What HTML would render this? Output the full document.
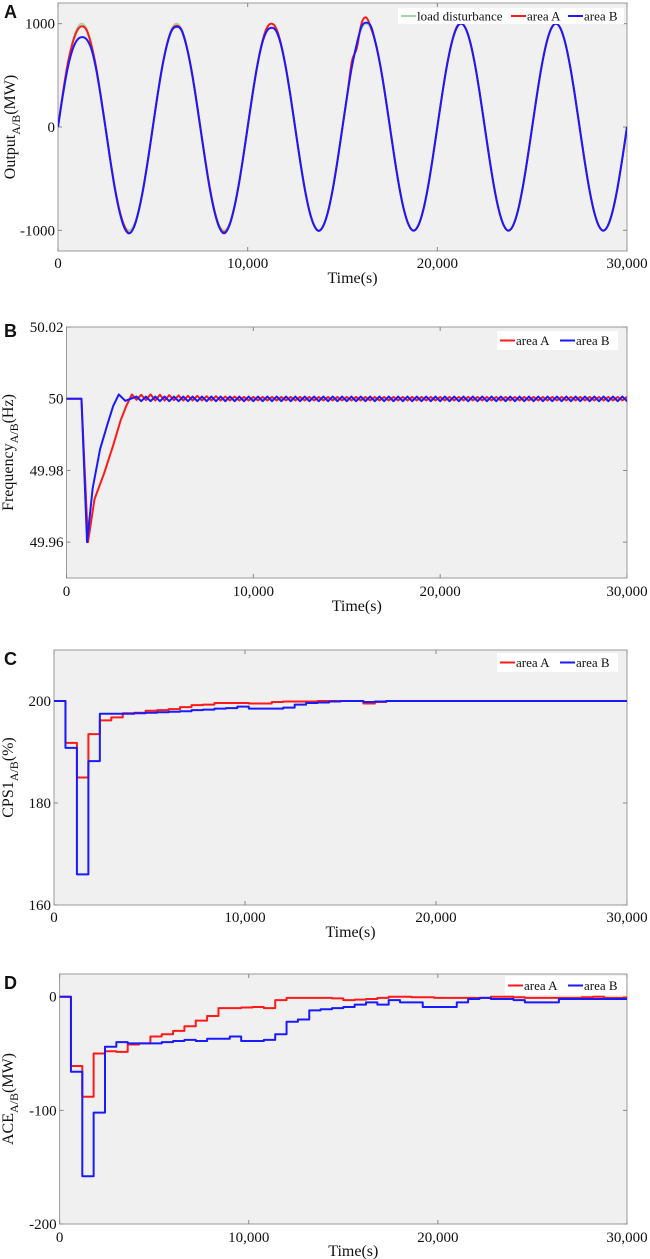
<!DOCTYPE html>
<html><head><meta charset="utf-8">
<style>
html,body{margin:0;padding:0;background:#fff;}
svg{display:block;}
text{font-family:"Liberation Serif",serif;fill:#111;}
.lbl{font-family:"Liberation Sans",sans-serif;font-weight:bold;font-size:18px;}
</style></head>
<body>
<svg id="fig" width="650" height="1259" viewBox="0 0 650 1259" xmlns="http://www.w3.org/2000/svg"></svg>
<script>
// ---------- shared data ----------
const xTicks = [0, 10000, 20000, 30000];
const xTickLabels = ["0", "10,000", "20,000", "30,000"];

// Panel A: output, sampled every 250 s
const outStep = 250;
const outLoad = [0,309,588,809,951,1000,951,809,588,309,0,-309,-588,-809,-951,-1000,-951,-809,-588,-309,
0,309,588,809,951,1000,951,809,588,309,0,-309,-588,-809,-951,-1000,-951,-809,-588,-309,
0,309,588,809,951,1000,951,809,588,309,0,-309,-588,-809,-951,-1000,-951,-809,-588,-309,
0,309,588,809,951,1000,951,809,588,309,0,-309,-588,-809,-951,-1000,-951,-809,-588,-309,
0,309,588,809,951,1000,951,809,588,309,0,-309,-588,-809,-951,-1000,-951,-809,-588,-309,
0,309,588,809,951,1000,951,809,588,309,0,-309,-588,-809,-951,-1000,-951,-809,-588,-309,0];
const outA = [0,320,600,800,930,975,940,800,588,309,0,-309,-590,-812,-960,-1025,-970,-815,-590,-309,
0,309,588,800,940,980,945,805,590,315,5,-300,-585,-810,-962,-1018,-965,-815,-590,-309,
0,309,588,809,955,1000,955,809,588,309,0,-309,-588,-809,-951,-1005,-951,-809,-588,-309,
0,309,640,760,1000,1060,960,809,588,309,0,-309,-588,-809,-951,-1003,-951,-809,-588,-309,
0,309,588,809,960,1005,951,809,588,309,0,-309,-588,-809,-951,-1003,-951,-809,-588,-309,
0,309,588,809,951,1000,951,809,588,309,0,-309,-588,-809,-951,-1003,-951,-809,-588,-309,0];
const outB = [0,300,560,740,840,870,850,760,570,300,0,-315,-600,-825,-975,-1030,-970,-815,-590,-309,
0,309,585,800,935,970,940,800,585,309,0,-309,-595,-820,-970,-1030,-970,-815,-590,-309,
0,309,585,800,925,960,930,800,585,309,0,-309,-588,-809,-951,-1005,-951,-809,-588,-309,
0,309,588,800,970,1010,975,809,588,309,0,-309,-588,-809,-951,-1003,-951,-809,-588,-309,
0,309,588,809,951,1000,951,809,588,309,0,-309,-588,-809,-951,-1003,-951,-809,-588,-309,
0,309,588,809,951,1000,951,809,588,309,0,-309,-588,-809,-951,-1003,-951,-809,-588,-309,0];

// Panel B: frequency transient (t, Hz) then oscillating tail (mHz deviation from 50)
const freqTA = [0,800,1150,1500,2000,2500,2900,3200,3500];
const freqVA = [50,50,49.960,49.972,49.979,49.987,49.994,49.998,50.0012];
const freqTB = [0,800,1100,1400,1800,2200,2500,2800,3150];
const freqVB = [50,50,49.960,49.975,49.986,49.993,49.998,50.0012,49.9994];
const tailStart = 3750, tailStep = 250;
const tailA = [-0.3,1.1,-0.4,1.2,-0.5,1.1,-0.5,1.0,-0.4,0.9,-0.5,0.8,-0.5,0.8,-0.5,0.7,-0.5,0.7,-0.5,0.6,-0.5,0.6,-0.5,0.5,-0.5,0.5,-0.5,0.5,
-0.5,0.5,-0.5,0.5,-0.5,0.5,-0.5,0.5,-0.5,0.5,-0.5,0.5,-0.5,0.5,-0.5,0.5,-0.5,0.5,-0.5,0.5,-0.5,0.5,-0.5,0.5,-0.5,0.5,-0.5,0.5,-0.5,0.5,-0.5,0.5,
-0.5,0.5,-0.5,0.5,-0.5,0.5,-0.5,0.5,-0.5,0.5,-0.5,0.5,-0.5,0.5,-0.5,0.5,-0.5,0.5,-0.5,0.5,-0.5,0.5,-0.5,0.5,-0.5,0.5,-0.5,0.5,-0.5,0.5,-0.5,0.5,
-0.5,0.5,-0.5,0.5,-0.5,0.5,-0.5,0.5,-0.5,0.5,-0.5,0.5,-0.5,0.5,-0.5];
const tailB = [0.6,-0.7,0.6,-0.7,0.6,-0.7,0.6,-0.7,0.6,-0.7,0.6,-0.7,0.6,-0.7,0.6,-0.7,0.6,-0.7,0.6,-0.7,0.6,-0.7,0.6,-0.7,0.6,-0.7,0.6,-0.7,
0.6,-0.7,0.6,-0.7,0.6,-0.7,0.6,-0.7,0.6,-0.7,0.6,-0.7,0.6,-0.7,0.6,-0.7,0.6,-0.7,0.6,-0.7,0.6,-0.7,0.6,-0.7,0.6,-0.7,0.6,-0.7,0.6,-0.7,0.6,-0.7,
0.6,-0.7,0.6,-0.7,0.6,-0.7,0.6,-0.7,0.6,-0.7,0.6,-0.7,0.6,-0.7,0.6,-0.7,0.6,-0.7,0.6,-0.7,0.6,-0.7,0.6,-0.7,0.6,-0.7,0.6,-0.7,0.6,-0.7,0.6,-0.7,
0.6,-0.7,0.6,-0.7,0.6,-0.7,0.6,-0.7,0.6,-0.7,0.6,-0.7,0.6,-0.7,0.6];

// Panel C: CPS1 steps every 600 s
const stepW = 600;
const cpsA = [200,191.8,185,193.5,196.2,196.8,197.6,197.7,198.1,198.2,198.4,198.8,199.2,199.3,199.6,199.6,199.6,199.5,199.5,199.8,
199.9,199.9,199.9,200,200,200,200,199.5,199.8,200,200,200,200,200,200,200,200,200,200,200,200,200,200,200,200,200,200,200,200,200];
const cpsB = [200,190.8,166,188.2,197.5,197.5,197.5,197.6,197.7,197.8,197.9,198.0,198.2,198.3,198.5,198.6,198.9,198.5,198.5,198.5,
198.7,199.3,199.6,199.7,199.9,200,200,199.8,199.9,200,200,200,200,200,200,200,200,200,200,200,200,200,200,200,200,200,200,200,200,200];

// Panel D: ACE steps every 600 s
const aceA = [0,-61,-88,-50,-48,-48.5,-42,-41,-35,-33,-30,-26,-21,-17,-10,-10,-9.5,-9,-10,-3,
-1,-1,-1,-1,-1.5,-3,-2.5,-2,-1,0,0,-0.5,-0.5,-1,-1,-1,-1,-1,0,0,-0.5,-1,-1,-1,-1,-1,-0.5,0,-1,-1];
const aceB = [0,-66,-158,-102,-44,-40,-41,-41,-41,-40,-39,-38,-39,-37,-37,-35,-39,-39,-38,-33,
-22,-20,-12,-11,-10,-9,-7,-5,-7,-3,-5,-5,-9,-9,-9,-5,-2,-1,-2,-2,-3,-5,-5,-5,-2,-2,-2,-2,-2,-2];

// ---------- drawing ----------
const NS = "http://www.w3.org/2000/svg";
const svg = document.getElementById("fig");
function mk(tag, attrs, parent){
  const e = document.createElementNS(NS, tag);
  for (const k in attrs) e.setAttribute(k, attrs[k]);
  (parent||svg).appendChild(e);
  return e;
}
const RED = "#ff1a1a", BLUE = "#1a1aff", GREEN = "#a8d5a8";

function panel(cfg){
  const g = mk("g", {});
  
  
  const {L,R,T,B,y0,y1} = cfg;
  const sx = t => L + (t/30000)*(R-L);
  const sy = v => B - (v-y0)/(y1-y0)*(B-T);
  const bg = mk("rect", {x:L, y:T, width:R-L, height:B-T, fill:"#f0f0f0", stroke:"#9a9a9a", "stroke-width":1}, g);
  
  
  xTicks.forEach((t,i)=>{
    const x = sx(t);
    mk("line",{x1:x,y1:B,x2:x,y2:B-4,stroke:"#888"},g);
    mk("line",{x1:x,y1:T,x2:x,y2:T+4,stroke:"#888"},g);
    const tx = mk("text",{x:x, y:cfg.xlY, "font-size":15, "text-anchor":"middle"},g);
    tx.textContent = xTickLabels[i];
    
    
  });
  cfg.yTicks.forEach((v,i)=>{
    const y = sy(v);
    mk("line",{x1:L,y1:y,x2:L+4,y2:y,stroke:"#888"},g);
    mk("line",{x1:R,y1:y,x2:R-4,y2:y,stroke:"#888"},g);
    const ty = mk("text",{x:L-3, y:y+5, "font-size":15, "text-anchor":"end"},g);
    ty.textContent = cfg.yTickLabels[i];
    
    
  });
  const xt = mk("text",{x:(L+R)/2+10, y:cfg.xtY, "font-size":16, "text-anchor":"middle"},g);
  xt.textContent = "Time(s)";
  
  
  const yt = mk("text",{transform:`translate(${cfg.ytX},${(T+B)/2}) rotate(-90)`, "font-size":16, "text-anchor":"middle"},g);
  yt.innerHTML = cfg.yMain + '<tspan font-size="12" dy="5">A/B</tspan><tspan dy="-5">' + cfg.yUnit + '</tspan>';
  
  
  const pl = mk("text",{x:4, y:cfg.letterY, class:"lbl"},g);
  pl.textContent = cfg.letter;
  
  
  const clipId = "clip"+cfg.letter;
  const cp = mk("clipPath",{id:clipId},g);
  mk("rect",{x:L,y:T,width:R-L,height:B-T},cp);
  const lines = mk("g",{"clip-path":`url(#${clipId})`},g);
  return {g, lines, sx, sy};
}

function addPath(parent, d, color, name, w){
  const p = mk("path",{d, fill:"none", stroke:color, "stroke-width":w||2, "stroke-linejoin":"round"}, parent);
  
  
  return p;
}
function smoothPath(pts){
  let d = `M${pts[0][0]},${pts[0][1]}`;
  for (let i=0;i<pts.length-1;i++){
    const p0=pts[Math.max(0,i-1)], p1=pts[i], p2=pts[i+1], p3=pts[Math.min(pts.length-1,i+2)];
    const c1x=p1[0]+(p2[0]-p0[0])/6, c1y=p1[1]+(p2[1]-p0[1])/6;
    const c2x=p2[0]-(p3[0]-p1[0])/6, c2y=p2[1]-(p3[1]-p1[1])/6;
    d += ` C${c1x.toFixed(2)},${c1y.toFixed(2)} ${c2x.toFixed(2)},${c2y.toFixed(2)} ${p2[0].toFixed(2)},${p2[1].toFixed(2)}`;
  }
  return d;
}
function linePath(pts){ return "M" + pts.map(p=>p[0].toFixed(2)+","+p[1].toFixed(2)).join(" L"); }
function stepPath(vals, sx, sy){
  let d = `M${sx(0)},${sy(vals[0])}`;
  vals.forEach((v,i)=>{
    d += ` L${sx(i*stepW).toFixed(2)},${sy(v).toFixed(2)} L${sx((i+1)*stepW).toFixed(2)},${sy(v).toFixed(2)}`;
  });
  return d;
}
function legend(parent, x, y, w, h, items, name){
  const lg = mk("g",{},parent);
  
  
  mk("rect",{x,y,width:w,height:h,fill:"#fff"},lg);
  let cx = x+3;
  items.forEach(it=>{
    const e = mk("g",{},lg);
    
    
    mk("line",{x1:cx,y1:y+h/2,x2:cx+15,y2:y+h/2,stroke:it.c,"stroke-width":2},e);
    const t = mk("text",{x:cx+16,y:y+h/2+4.5,"font-size":13},e);
    t.textContent = it.t;
    cx += 16 + it.tw;
  });
}

// ---- Panel A ----
(function(){
  const P = panel({name:"panel-a-output", letter:"A", letterY:18, L:58, R:627, T:3, B:251, y0:-1200, y1:1200,
    yTicks:[-1000,0,1000], yTickLabels:["-1000","0","1000"], xlY:268, xtY:283, ytX:15, yMain:"Output", yUnit:"(MW)"});
  const pts = arr => arr.map((v,i)=>[P.sx(i*outStep), P.sy(v)]);
  addPath(P.lines, smoothPath(pts(outLoad)), GREEN, "series-load-disturbance");
  addPath(P.lines, smoothPath(pts(outA)), RED, "series-area-a");
  addPath(P.lines, smoothPath(pts(outB)), BLUE, "series-area-b");
  legend(P.g, 398, 8, 226, 16, [{c:GREEN,t:"load disturbance",tw:94},{c:RED,t:"area A",tw:41},{c:BLUE,t:"area B",tw:40}], "legend");
})();

// ---- Panel B ----
(function(){
  const P = panel({name:"panel-b-frequency", letter:"B", letterY:337, L:66.5, R:627, T:327, B:578, y0:49.95, y1:50.02,
    yTicks:[49.96,49.98,50,50.02], yTickLabels:["49.96","49.98","50","50.02"], xlY:596, xtY:611, ytX:13, yMain:"Frequency", yUnit:"(Hz)"});
  const build = (ts, vs, tail) => {
    const p = ts.map((t,i)=>[P.sx(t), P.sy(vs[i])]);
    tail.forEach((v,i)=>p.push([P.sx(tailStart+i*tailStep), P.sy(50+v/1000)]));
    return p;
  };
  addPath(P.lines, linePath(build(freqTA, freqVA, tailA)), RED, "series-area-a");
  addPath(P.lines, linePath(build(freqTB, freqVB, tailB)), BLUE, "series-area-b");
  legend(P.g, 497, 331, 121, 19, [{c:RED,t:"area A",tw:44},{c:BLUE,t:"area B",tw:40}], "legend");
})();

// ---- Panel C ----
(function(){
  const P = panel({name:"panel-c-cps1", letter:"C", letterY:665, L:54, R:627, T:650, B:905, y0:160, y1:210,
    yTicks:[160,180,200], yTickLabels:["160","180","200"], xlY:922, xtY:937, ytX:13, yMain:"CPS1", yUnit:"(%)"});
  addPath(P.lines, stepPath(cpsA, P.sx, P.sy), RED, "series-area-a");
  addPath(P.lines, stepPath(cpsB, P.sx, P.sy), BLUE, "series-area-b");
  legend(P.g, 497, 653, 121, 19, [{c:RED,t:"area A",tw:44},{c:BLUE,t:"area B",tw:40}], "legend");
})();

// ---- Panel D ----
(function(){
  const P = panel({name:"panel-d-ace", letter:"D", letterY:989, L:59.6, R:627, T:974, B:1224, y0:-200, y1:20,
    yTicks:[-200,-100,0], yTickLabels:["-200","-100","0"], xlY:1242, xtY:1256, ytX:13, yMain:"ACE", yUnit:"(MW)"});
  addPath(P.lines, stepPath(aceA, P.sx, P.sy), RED, "series-area-a");
  addPath(P.lines, stepPath(aceB, P.sx, P.sy), BLUE, "series-area-b");
  legend(P.g, 505, 976, 121, 19, [{c:RED,t:"area A",tw:44},{c:BLUE,t:"area B",tw:40}], "legend");
})();
</script>
</body></html>
